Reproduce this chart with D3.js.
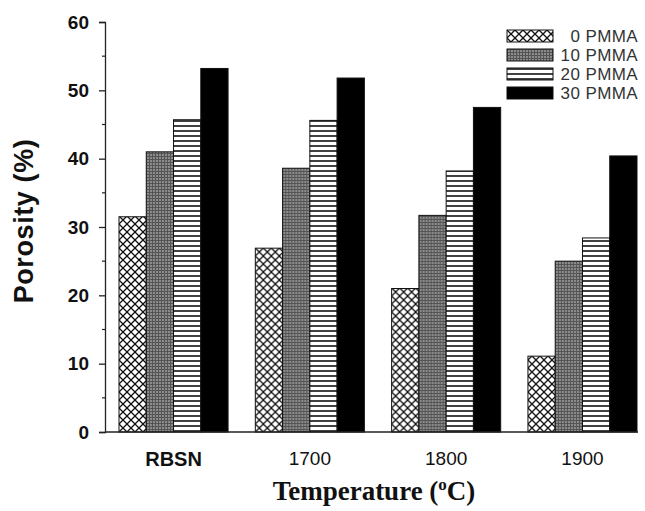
<!DOCTYPE html>
<meta charset="utf-8">
<script src="https://d3js.org/d3.v7.min.js"></script>
<style>
  body { margin: 0; background: #fff; }
</style>
<div id="chart"></div>
<script>
  // data
  var categories = ["RBSN", "1700", "1800", "1900"];
  var series = ["0 PMMA", "10 PMMA", "20 PMMA", "30 PMMA"];
  var pmma0 = [31.5, 26.9, 21.0, 11.1];
  var pmma10 = [41.0, 38.6, 31.7, 25.0];
  var pmma20 = [45.7, 45.6, 38.2, 28.4];
  var pmma30 = [53.2, 51.8, 47.5, 40.4];
  var yTicks = [0, 10, 20, 30, 40, 50, 60];

  var values = [pmma0, pmma10, pmma20, pmma30];
  var fills = ["url(#cross)", "url(#gray)", "url(#hlines)", "#000"];

  var width = 645, height = 511;
  var x0 = 105, yBottom = 432, yTop = 22;

  var svg = d3.select("#chart").append("svg")
    .attr("width", width).attr("height", height);

  // patterns
  var defs = svg.append("defs");
  var p1 = defs.append("pattern").attr("id", "cross")
    .attr("patternUnits", "userSpaceOnUse").attr("width", 8).attr("height", 8);
  p1.append("rect").attr("width", 8).attr("height", 8).attr("fill", "#fff");
  p1.append("path").attr("d", "M0,0 L8,8 M8,0 L0,8")
    .attr("stroke", "#111").attr("stroke-width", 1.3);

  var p2 = defs.append("pattern").attr("id", "gray")
    .attr("patternUnits", "userSpaceOnUse").attr("width", 3).attr("height", 3);
  p2.append("rect").attr("width", 3).attr("height", 3).attr("fill", "#8c8c8c");
  p2.append("path").attr("d", "M0,0.5 H3 M0.5,0 V3")
    .attr("stroke", "#555").attr("stroke-width", 1);

  var p3 = defs.append("pattern").attr("id", "hlines")
    .attr("patternUnits", "userSpaceOnUse").attr("width", 6).attr("height", 5);
  p3.append("rect").attr("width", 6).attr("height", 5).attr("fill", "#fff");
  p3.append("path").attr("d", "M0,1 H6")
    .attr("stroke", "#111").attr("stroke-width", 1.6);

  // scales
  var x = d3.scaleBand().domain(categories).range([119, 637]).paddingInner(0.2).paddingOuter(0);
  var xs = d3.scaleBand().domain(series).range([0, x.bandwidth()]).padding(0);
  var y = d3.scaleLinear().domain([0, 60]).range([yBottom, yTop]);

  // bars
  var groups = svg.selectAll("g.grp").data(categories).enter().append("g")
    .attr("class", "grp")
    .attr("transform", function (d) { return "translate(" + x(d) + ",0)"; });

  groups.selectAll("rect").data(function (d, i) {
    return series.map(function (s, j) { return { s: s, v: values[j][i], j: j }; });
  }).enter().append("rect")
    .attr("x", function (d) { return xs(d.s); })
    .attr("y", function (d) { return y(d.v); })
    .attr("width", xs.bandwidth())
    .attr("height", function (d) { return yBottom - y(d.v); })
    .attr("fill", function (d) { return fills[d.j]; })
    .attr("stroke", "#111").attr("stroke-width", 1);

  // y axis
  var yAxis = svg.append("g").attr("transform", "translate(" + x0 + ",0)")
    .call(d3.axisLeft(y).tickValues(yTicks).tickSize(6).tickPadding(10));
  yAxis.selectAll(".tick text")
    .style("font-family", "Liberation Sans, Arial, sans-serif")
    .style("font-weight", "bold").style("font-size", "19px").attr("fill", "#111");
  yAxis.select(".domain").attr("stroke", "#222").attr("stroke-width", 1.3);
  yAxis.selectAll(".tick line").attr("stroke", "#222").attr("stroke-width", 1.3);
  // minor ticks
  yAxis.selectAll("line.minor").data([5, 15, 25, 35, 45, 55]).enter().append("line")
    .attr("class", "minor")
    .attr("x1", -3).attr("x2", 0)
    .attr("y1", function (d) { return y(d); }).attr("y2", function (d) { return y(d); })
    .attr("stroke", "#222").attr("stroke-width", 1.2);

  // x axis
  var xAxis = svg.append("g").attr("transform", "translate(0," + yBottom + ")")
    .call(d3.axisBottom(x).tickSize(0).tickPadding(20));
  xAxis.select(".domain").attr("d", "M" + x0 + ",0H638").attr("stroke", "#222").attr("stroke-width", 1.3);
  xAxis.selectAll(".tick text")
    .style("font-family", "Liberation Sans, Arial, sans-serif")
    .style("font-size", function (d) { return d === "RBSN" ? "20px" : "19px"; })
    .style("font-weight", function (d) { return d === "RBSN" ? "bold" : "normal"; })
    .attr("fill", "#111");

  // axis titles
  svg.append("text")
    .attr("transform", "translate(33,221) rotate(-90)")
    .attr("text-anchor", "middle")
    .style("font-family", "Liberation Sans, Arial, sans-serif")
    .style("font-weight", "bold").style("font-size", "27px")
    .style("letter-spacing", "0.6px")
    .attr("fill", "#111")
    .text("Porosity (%)");

  var xt = svg.append("text")
    .attr("x", 374).attr("y", 500)
    .attr("text-anchor", "middle")
    .style("font-family", "Liberation Serif, Times New Roman, serif")
    .style("font-weight", "bold").style("font-size", "27px")
    .attr("fill", "#111");
  xt.append("tspan").text("Temperature (");
  xt.append("tspan").attr("dy", -10).style("font-size", "17px").text("o");
  xt.append("tspan").attr("dy", 10).text("C)");

  // legend
  var leg = svg.append("g").selectAll("g").data(series).enter().append("g")
    .attr("transform", function (d, i) { return "translate(507," + (30 + i * 19) + ")"; });
  leg.append("rect").attr("width", 46).attr("height", 12)
    .attr("fill", function (d, i) { return fills[i]; })
    .attr("stroke", "#111").attr("stroke-width", 1);
  leg.append("text").attr("x", 131).attr("y", 12)
    .attr("text-anchor", "end")
    .style("font-family", "Liberation Sans, Arial, sans-serif")
    .style("font-size", "17px").style("letter-spacing", "0.4px").attr("fill", "#333")
    .text(function (d) { return d; });
</script>
